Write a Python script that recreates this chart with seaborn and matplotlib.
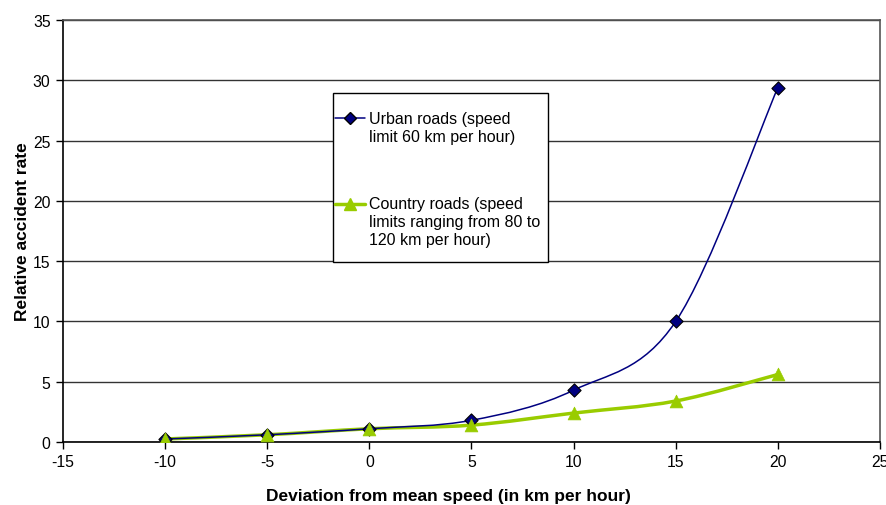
import numpy as np
import pandas as pd
import matplotlib
matplotlib.use("Agg")
import matplotlib.pyplot as plt
from matplotlib.path import Path
from matplotlib.patches import PathPatch, Rectangle
from matplotlib.lines import Line2D
from matplotlib.legend_handler import HandlerLine2D
import seaborn as sns

# values
deviation = [-10, -5, 0, 5, 10, 15, 20]
urban_rate = [0.25, 0.6, 1.1, 1.8, 4.3, 10.0, 29.4]
country_rate = [0.25, 0.6, 1.1, 1.4, 2.4, 3.4, 5.6]

urban_label = "Urban roads (speed\nlimit 60 km per hour)"
country_label = "Country roads (speed\nlimits ranging from 80 to\n120 km per hour)"

urban_color = "#000080"
country_color = "#99CC00"

df = pd.DataFrame({
    "deviation": deviation * 2,
    "rate": urban_rate + country_rate,
    "road": ["urban"] * len(deviation) + ["country"] * len(deviation),
})

sns.set_style("white")
plt.rcParams['font.family'] = ['Liberation Sans', 'DejaVu Sans']
plt.rcParams['axes.unicode_minus'] = False

fig = plt.figure(figsize=(8.87, 5.06), dpi=100)
ax = fig.add_axes([63 / 887, 63 / 506, 817 / 887, 422 / 506])


def smooth_path(xs, ys):
    # Excel-style smoothed line: Catmull-Rom segments as cubic Bezier curves
    pts = np.column_stack([xs, ys]).astype(float)
    n = len(pts)
    verts = [pts[0]]
    codes = [Path.MOVETO]
    for i in range(n - 1):
        p0 = pts[i - 1] if i > 0 else pts[i]
        p1 = pts[i]
        p2 = pts[i + 1]
        p3 = pts[i + 2] if i + 2 < n else pts[i + 1]
        c1 = p1 + (p2 - p0) / 6
        c2 = p2 - (p3 - p1) / 6
        verts += [c1, c2, p2]
        codes += [Path.CURVE4] * 3
    return Path(verts, codes)


ax.add_patch(PathPatch(smooth_path(deviation, country_rate), fill=False,
                       edgecolor=country_color, lw=2.5, zorder=3))
ax.add_patch(PathPatch(smooth_path(deviation, urban_rate), fill=False,
                       edgecolor=urban_color, lw=1.1, zorder=4))

urban_df = df[df["road"] == "urban"]
country_df = df[df["road"] == "country"]
sns.scatterplot(data=urban_df, x="deviation", y="rate", marker="D", s=45,
                color=urban_color, edgecolor="black", linewidth=0.8,
                ax=ax, zorder=5, legend=False)
sns.scatterplot(data=country_df, x="deviation", y="rate", marker="^", s=85,
                color=country_color, edgecolor=country_color, linewidth=0.5,
                ax=ax, zorder=6, legend=False)

ax.set_xlim(-15, 25)
ax.set_ylim(0, 35)
ax.set_xticks(range(-15, 26, 5))
ax.set_yticks(range(0, 36, 5))
ax.yaxis.grid(True, color="#333333", lw=1)
ax.set_axisbelow(True)

for side in ["left", "bottom"]:
    ax.spines[side].set_color("black")
    ax.spines[side].set_linewidth(1.2)
for side in ["top", "right"]:
    ax.spines[side].set_color("#555555")
    ax.spines[side].set_linewidth(1.2)

ax.tick_params(axis="both", direction="out", length=5, width=1, color="black",
               labelcolor="black", labelsize=11.3, pad=4, bottom=True, left=True)

ax.set_xlabel("Deviation from mean speed (in km per hour)", fontsize=12.5,
              fontweight="bold", color="black")
ax.set_ylabel("Relative accident rate", fontsize=12.5, fontweight="bold",
              color="black")
ax.xaxis.set_label_coords((448 - 63) / 817, -(489 - 443) / 422)
ax.yaxis.set_label_coords(-(63 - 30) / 817, 0.5)

# legend frame (white box with black border)
box_x0, box_x1 = (333 - 63) / 817, (548 - 63) / 817
box_y0, box_y1 = (443 - 263) / 422, (443 - 94) / 422
ax.add_patch(Rectangle((box_x0, box_y0), box_x1 - box_x0, box_y1 - box_y0,
                       transform=ax.transAxes, facecolor="white",
                       edgecolor="black", lw=1, zorder=7))


class ShiftedHandler(HandlerLine2D):
    # moves the legend handle up so it sits next to the first label line
    def __init__(self, shift, **kw):
        super().__init__(**kw)
        self.shift = shift

    def create_artists(self, legend, orig_handle, xdescent, ydescent,
                       width, height, fontsize, trans):
        artists = super().create_artists(legend, orig_handle, xdescent,
                                         ydescent, width, height, fontsize,
                                         trans)
        for a in artists:
            a.set_ydata(np.asarray(a.get_ydata(), dtype=float) + self.shift)
        return artists


handles = [
    Line2D([], [], color=urban_color, lw=1.1, marker="D", markersize=6,
           markerfacecolor=urban_color, markeredgecolor="black"),
    Line2D([], [], color=country_color, lw=2.5, marker="^", markersize=8,
           markerfacecolor=country_color, markeredgecolor=country_color),
]
leg = ax.legend(handles, [urban_label, country_label], loc="upper left",
                bbox_to_anchor=((335 - 63) / 817, (443 - 112) / 422),
                fontsize=11.5, frameon=False, labelspacing=3.25,
                handlelength=1.9, handletextpad=0.25, borderpad=0,
                borderaxespad=0,
                handler_map={handles[0]: ShiftedHandler(7.2),
                             handles[1]: ShiftedHandler(13.0)})
leg.set_zorder(8)
for t in leg.get_texts():
    t.set_linespacing(1.25)
    t.set_color("black")

fig.savefig("out.png", dpi=100)
